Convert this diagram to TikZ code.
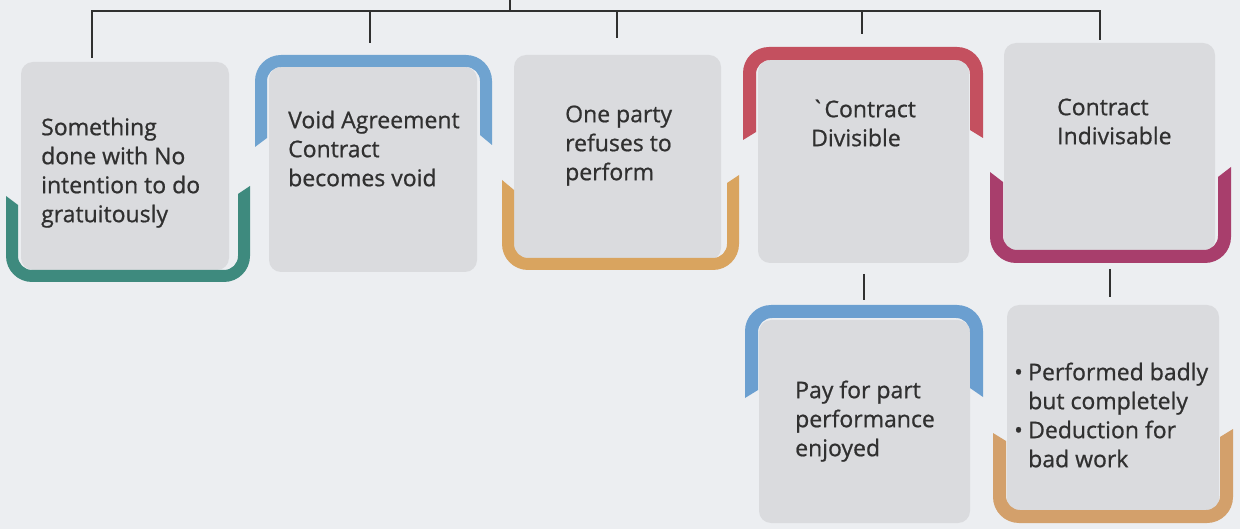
\documentclass[tikz,border=0pt]{standalone}
\usepackage{fontspec}
\setmainfont{Open Sans}[FakeBold=0.8]

\definecolor{bg}{HTML}{ECEEF1}
\definecolor{boxgrey}{HTML}{DADBDE}
\definecolor{ink}{HTML}{303030}
\definecolor{tealA}{HTML}{3E8A7E}
\definecolor{blueA}{HTML}{6FA3D0}
\definecolor{orangeA}{HTML}{D9A45F}
\definecolor{redA}{HTML}{C4505F}
\definecolor{magA}{HTML}{A83E6C}
\definecolor{blueB}{HTML}{6B9FD0}
\definecolor{orangeB}{HTML}{D3A06B}

% thick rounded bracket open at the bottom:
% colour, left x, right x, top y, thickness, left end (outer, inner), right end (outer, inner)
\newcommand{\capup}[9]{%
  \fill[#1] (#2,#6) [rounded corners=26pt] -- (#2,#4) -- (#3,#4) [sharp corners]
    -- (#3,#8) -- ({#3-#5},#9) [rounded corners=14pt] -- ({#3-#5},{#4+#5})
    -- ({#2+#5},{#4+#5}) [sharp corners] -- ({#2+#5},#7) -- cycle;}
% thick rounded bracket open at the top:
% colour, left x, right x, bottom y, thickness, left end (outer, inner), right end (outer, inner)
\newcommand{\capdown}[9]{%
  \fill[#1] (#2,#6) [rounded corners=26pt] -- (#2,#4) -- (#3,#4) [sharp corners]
    -- (#3,#8) -- ({#3-#5},#9) [rounded corners=14pt] -- ({#3-#5},{#4-#5})
    -- ({#2+#5},{#4-#5}) [sharp corners] -- ({#2+#5},#7) -- cycle;}

\begin{document}
\begin{tikzpicture}[x=1pt, y=-1pt,
  greybox/.style={fill=boxgrey, draw=none, rounded corners=12pt, inner sep=0pt},
  label/.style={anchor=north west, inner sep=0pt, align=left, text=ink,
    font=\fontsize{23pt}{29pt}\selectfont},
  link/.style={draw=ink, line width=2.4pt}]

\fill[bg] (0,0) rectangle (1240,529);
\useasboundingbox (0,0) rectangle (1240,529);

% grey cards
\node[greybox, minimum width=208pt, minimum height=208pt] (b1) at (125,166) {};
\node[greybox, minimum width=208pt, minimum height=205pt] (b2) at (373,169.5) {};
\node[greybox, minimum width=207pt, minimum height=205pt] (b3) at (617.5,157.5) {};
\node[greybox, minimum width=211pt, minimum height=203pt] (b4) at (863.5,161.5) {};
\node[greybox, minimum width=211pt, minimum height=209pt] (b5) at (1109.5,147.5) {};
\node[greybox, minimum width=211pt, minimum height=203pt] (b6) at (864.5,421.5) {};
\node[greybox, minimum width=212pt, minimum height=207pt] (b7) at (1113,408.5) {};

% coloured brackets
\capdown{tealA}{6}{250}{282}{12}{196}{205}{186}{194}
\capup{blueA}{255}{492}{55}{12}{147}{138}{145}{135}
\capdown{orangeA}{502}{739}{270}{12}{180}{190}{175}{183}
\capup{redA}{743}{983}{47}{13}{140}{132}{138}{130}
\capdown{magA}{990}{1231}{263}{13}{172}{182}{167}{177}
\capup{blueB}{745}{983}{305}{13}{398}{390}{397}{388}
\capdown{orangeB}{993}{1233}{523}{13}{433}{441}{429}{437}

% card texts
\node[label] (t1) at (41,114.7) {\strut Something\\done with No\\intention to do\\gratuitously};
\node[label] (t2) at (288,107.7) {\strut Void Agreement\\Contract\\becomes void};
\node[label] (t3) at (565,101.7) {\strut One party\\refuses to\\perform};
\node[label] (t4) at (811,96.7) {\strut\textasciigrave Contract\\Divisible};
\node[label] (t5) at (1057,94.7) {\strut Contract\\Indivisable};
\node[label] (t6) at (795,377.7) {\strut Pay for part\\performance\\enjoyed};
\node[label] (t7) at (1014,359.7) {\strut\makebox[14pt][l]{•}Performed badly\\
  \hspace*{14pt}but completely\\\makebox[14pt][l]{•}Deduction for\\\hspace*{14pt}bad work};

% tree connectors
\coordinate (root) at (510,0);
\coordinate (barL) at (92,11);
\coordinate (barR) at (1100,11);
\coordinate (e1) at (92,58);
\coordinate (e2) at (370,43);
\coordinate (e3) at (617,38);
\coordinate (e4) at (862,34);
\coordinate (e5) at (1100,40);
\draw[link] (e1) -- (barL) -- (barR) -- (e5);
\draw[link] (root) -- (root |- barL);
\draw[link] (e2 |- barL) -- (e2);
\draw[link] (e3 |- barL) -- (e3);
\draw[link] (e4 |- barL) -- (e4);

\coordinate (f4a) at (864,274);
\coordinate (f4b) at (864,300);
\coordinate (f5a) at (1110,269);
\coordinate (f5b) at (1110,297);
\draw[link] (f4a) -- (f4b);
\draw[link] (f5a) -- (f5b);
\end{tikzpicture}
\end{document}
